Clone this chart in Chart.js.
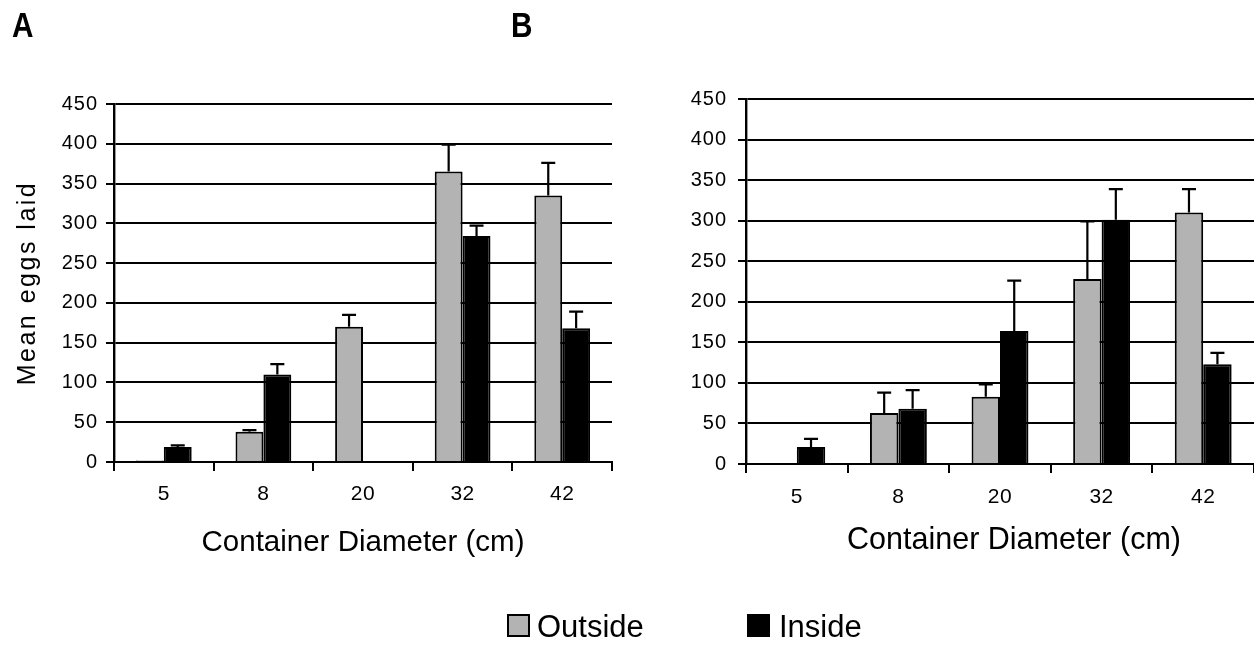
<!DOCTYPE html>
<html>
<head>
<meta charset="utf-8">
<script src="https://cdn.jsdelivr.net/npm/chart.js@4/dist/chart.umd.min.js"></script>
<style>
html,body{margin:0;padding:0;background:#fff;}
body{width:1254px;height:645px;overflow:hidden;position:relative;font-family:"Liberation Sans",Arial,sans-serif;color:#000;}
canvas{position:absolute;top:0;}
#ca{left:0;}
#cb{left:627px;}
.panel{position:absolute;font-family:"Liberation Sans",Arial,sans-serif;font-weight:bold;font-size:35px;line-height:35px;transform:scaleX(0.85);transform-origin:0 0;}
.lbox{position:absolute;width:19px;height:19px;border:2px solid #000;}
.ltxt{position:absolute;font-size:31px;line-height:31px;white-space:nowrap;}
</style>
</head>
<body>
<canvas id="ca" width="627" height="645"></canvas>
<canvas id="cb" width="627" height="645"></canvas>
<div class="panel" style="left:12px;top:7px;">A</div>
<div class="panel" style="left:511px;top:7px;">B</div>
<div class="lbox" style="left:507px;top:614px;background:#b3b3b3;"></div>
<div class="ltxt" style="left:537px;top:611px;">Outside</div>
<div class="lbox" style="left:747px;top:614px;background:#000;"></div>
<div class="ltxt" style="left:779px;top:611px;">Inside</div>
<script>
// ---- data ----
const categories = ['5', '8', '20', '32', '42'];
const seriesNames = ['Outside', 'Inside'];
const yTicks = [0, 50, 100, 150, 200, 250, 300, 350, 400, 450];

// Panel A
const aOutside = [2, 38, 170, 365, 335];
const aOutsideErr = [0, 2, 15, 34, 41];
const aInside = [19, 110, null, 284, 168];
const aInsideErr = [2, 13, 0, 13, 21];

// Panel B
const bOutside = [null, 63, 83, 228, 310];
const bOutsideErr = [0, 25, 15, 71, 29];
const bInside = [21, 68, 164, 301, 123];
const bInsideErr = [10, 23, 62, 38, 14];

const FONT = '"Liberation Sans", Arial, sans-serif';
const GRAY = '#b3b3b3';

// error bars (upper only, with cap)
const errorBars = {
  id: 'errorBars',
  afterDatasetsDraw(chart) {
    const ctx = chart.ctx;
    const ys = chart.scales.y;
    chart.data.datasets.forEach((ds, i) => {
      const meta = chart.getDatasetMeta(i);
      if (!ds.errors) return;
      meta.data.forEach((el, j) => {
        const v = ds.data[j];
        const e = ds.errors[j];
        if (v == null || !e) return;
        const yTop = ys.getPixelForValue(v + e);
        const yBar = ys.getPixelForValue(v);
        ctx.save();
        ctx.strokeStyle = '#000';
        ctx.lineWidth = 2.2;
        ctx.beginPath();
        ctx.moveTo(el.x, yBar);
        ctx.lineTo(el.x, yTop);
        ctx.moveTo(el.x - 7, yTop);
        ctx.lineTo(el.x + 7, yTop);
        ctx.stroke();
        ctx.restore();
      });
    });
  }
};

// letter spacing / shift for axis texts
const spacing = {
  id: 'spacing',
  afterLayout(chart, args, opts) {
    ['x', 'y'].forEach(id => {
      const s = chart.scales[id];
      if (!s || s._spPatched) return;
      s._spPatched = true;
      const dl = s.drawLabels, dt = s.drawTitle;
      const tickSp = (opts && opts[id + 'Tick']) || '0px';
      const titleSp = (opts && opts[id + 'Title']) || '0px';
      const shift = (opts && opts[id + 'TitleShift']) || 0;
      s.drawLabels = function (a) {
        const c = this.ctx; const o = c.letterSpacing;
        c.letterSpacing = tickSp; dl.call(this, a); c.letterSpacing = o || '0px';
      };
      s.drawTitle = function (a) {
        const c = this.ctx; const o = c.letterSpacing;
        c.save();
        c.translate(shift, 0);
        c.letterSpacing = titleSp; dt.call(this, a); c.letterSpacing = o || '0px';
        c.restore();
      };
    });
  }
};

function makeChart(canvasId, outside, outErr, inside, inErr, cfg) {
  return new Chart(document.getElementById(canvasId), {
    type: 'bar',
    data: {
      labels: categories,
      datasets: [
        { label: seriesNames[0], data: outside, errors: outErr, backgroundColor: GRAY,
          borderColor: '#000', borderWidth: 2, categoryPercentage: 0.56, barPercentage: 1.0 },
        { label: seriesNames[1], data: inside, errors: inErr, backgroundColor: '#000',
          borderColor: '#000', borderWidth: 2, categoryPercentage: 0.56, barPercentage: 1.0 }
      ]
    },
    options: {
      responsive: false,
      animation: false,
      devicePixelRatio: 1,
      layout: { padding: cfg.padding },
      plugins: {
        legend: { display: false },
        tooltip: { enabled: false },
        spacing: cfg.spacing
      },
      scales: {
        x: {
          grid: { display: true, drawOnChartArea: false, drawTicks: true, tickLength: 9,
                  color: '#000', lineWidth: 2, offset: true },
          border: { display: true, color: '#000', width: 2 },
          ticks: { font: { family: FONT, size: 21 }, color: '#000', padding: cfg.xTickPad,
                   maxRotation: 0, autoSkip: false },
          title: { display: true, text: 'Container Diameter (cm)', color: '#000',
                   font: { family: FONT, size: cfg.xTitleSize },
                   padding: { top: 0, bottom: cfg.xTitlePad } },
          afterFit(s) { s.height = 110; }
        },
        y: {
          min: 0, max: 450,
          afterBuildTicks(s) { s.ticks = yTicks.map(v => ({ value: v })); },
          ticks: { font: { family: FONT, size: 20 }, color: '#000', padding: cfg.yTickPad },
          grid: { color: '#000', lineWidth: 2, tickLength: 8 },
          border: { display: true, color: '#000', width: 2.4 },
          title: { display: cfg.yTitle, text: 'Mean eggs laid', color: '#000',
                   font: { family: FONT, size: 25 }, padding: { top: 13, bottom: 0 } },
          afterFit(s) { s.width = cfg.yWidth; }
        }
      }
    },
    plugins: [errorBars, spacing]
  });
}

makeChart('ca', aOutside, aOutsideErr, aInside, aInsideErr, {
  padding: { left: 0, right: 15, top: 104, bottom: 73 },
  yWidth: 114, yTickPad: 8, xTickPad: 11, xTitleSize: 29.5, xTitlePad: 11, yTitle: true,
  spacing: { yTick: '1px', yTitle: '2.5px', xTick: '0.5px', xTitle: '0px', xTitleShift: 0 }
});
makeChart('cb', bOutside, bOutsideErr, bInside, bInsideErr, {
  padding: { left: 0, right: 0, top: 99, bottom: 71 },
  yWidth: 119, yTickPad: 11, xTickPad: 12, xTitleSize: 30.5, xTitlePad: 15, yTitle: false,
  spacing: { yTick: '1px', yTitle: '0px', xTick: '0.5px', xTitle: '0px', xTitleShift: 14 }
});
</script>
</body>
</html>
